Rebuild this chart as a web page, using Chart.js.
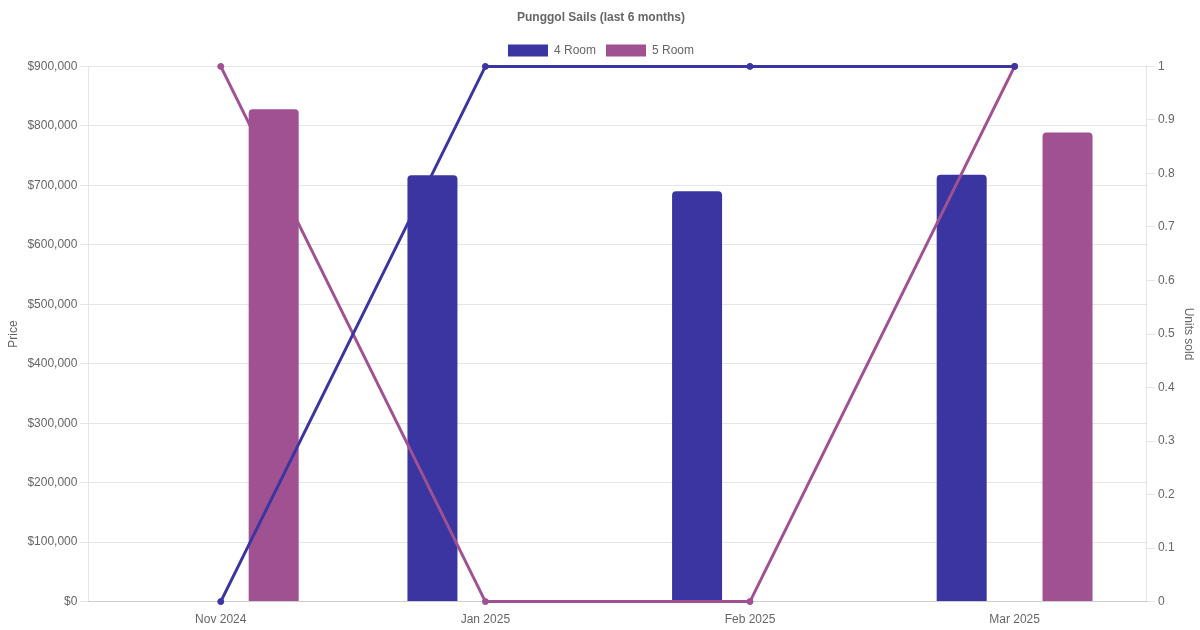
<!DOCTYPE html>
<html>
<head>
<meta charset="utf-8">
<script src="https://cdn.jsdelivr.net/npm/chart.js@4/dist/chart.umd.min.js"></script>
<style>
  html, body { margin: 0; padding: 0; background: #fff; }
  #wrap { width: 1200px; height: 630px; }
</style>
</head>
<body>
<div id="wrap"><canvas id="chart"></canvas></div>
<script>
const months = ['Nov 2024', 'Jan 2025', 'Feb 2025', 'Mar 2025'];
const price4Room = [null, 717000, 690000, 718000];
const price5Room = [828000, null, null, 789000];
const units4Room = [0, 1, 1, 1];
const units5Room = [1, 0, 0, 1];

const COLOR_4 = '#3a35a1';
const COLOR_5 = '#a05192';

const ctx = document.getElementById('chart');
new Chart(ctx, {
  type: 'bar',
  data: {
    labels: months,
    datasets: [
      {label: '4 Room', data: price4Room, backgroundColor: COLOR_4, borderColor: COLOR_4,
        borderWidth: 0, borderRadius: 4, maxBarThickness: 50, yAxisID: 'y', order: 2},
      {label: '5 Room', data: price5Room, backgroundColor: COLOR_5, borderColor: COLOR_5,
        borderWidth: 0, borderRadius: 4, maxBarThickness: 50, yAxisID: 'y', order: 2},
      {type: 'line', label: '4 Room units', data: units4Room, borderColor: COLOR_4,
        backgroundColor: COLOR_4, borderWidth: 3, pointRadius: 3, pointBorderWidth: 1,
        clip: false, yAxisID: 'y1', order: 1},
      {type: 'line', label: '5 Room units', data: units5Room, borderColor: COLOR_5,
        backgroundColor: COLOR_5, borderWidth: 3, pointRadius: 3, pointBorderWidth: 1,
        clip: false, yAxisID: 'y1', order: 1}
    ]
  },
  options: {
    responsive: true,
    maintainAspectRatio: false,
    animation: false,
    layout: {padding: {left: 2}},
    plugins: {
      title: {display: true, text: 'Punggol Sails (last 6 months)', font: {size: 12, weight: 'bold'}},
      legend: {
        labels: {filter: (item) => item.datasetIndex < 2}
      },
      tooltip: {enabled: false}
    },
    scales: {
      x: {grid: {display: false}},
      y: {
        position: 'left',
        beginAtZero: true,
        title: {display: true, text: 'Price'},
        ticks: {stepSize: 100000, callback: (v) => '$' + Number(v).toLocaleString('en-US')}
      },
      y1: {
        position: 'right',
        beginAtZero: true,
        max: 1,
        title: {display: true, text: 'Units sold'},
        ticks: {stepSize: 0.1, callback: (v) => String(Math.round(v * 10) / 10)},
        grid: {drawOnChartArea: false}
      }
    }
  }
});
</script>
</body>
</html>
